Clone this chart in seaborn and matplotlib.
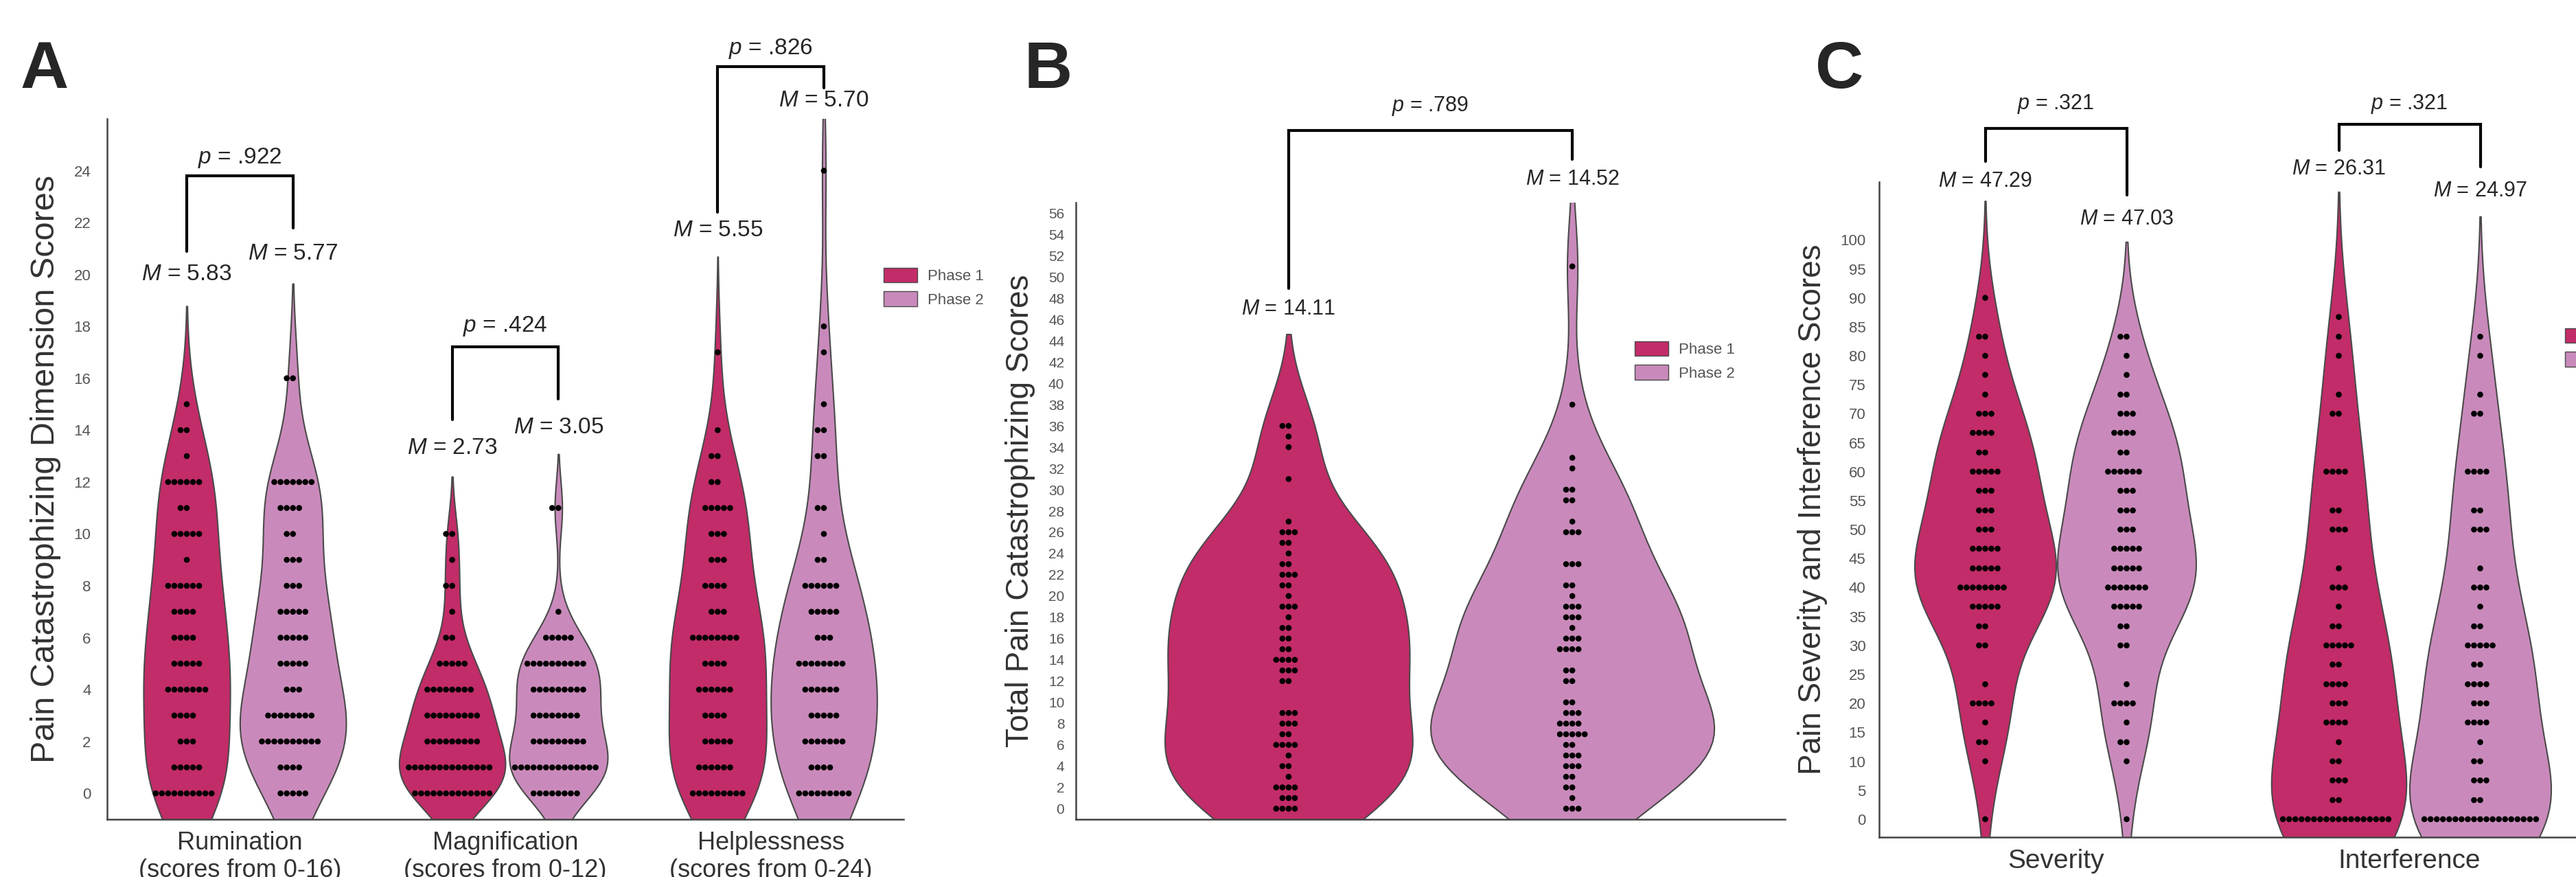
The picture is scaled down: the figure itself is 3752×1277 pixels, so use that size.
import numpy as np
import pandas as pd
import seaborn as sns
import matplotlib.pyplot as plt
from matplotlib.patches import Patch

# ---- data: score values and how many participants sit at each score ----
# Panel A - PCS dimensions
rum_scores = list(range(0, 17))
rum_p1_n = [10, 5, 3, 4, 7, 5, 4, 4, 6, 1, 5, 2, 6, 1, 2, 1, 0]
rum_p2_n = [5, 4, 10, 8, 3, 5, 5, 5, 3, 3, 2, 4, 7, 0, 0, 0, 2]

mag_scores = list(range(0, 13))
mag_p1_n = [13, 14, 9, 9, 8, 5, 2, 1, 2, 1, 2, 0, 0]
mag_p2_n = [8, 14, 9, 8, 9, 10, 5, 1, 0, 0, 0, 2, 0]

help_scores = list(range(0, 25))
help_p1_n = [9, 6, 5, 4, 6, 4, 8, 3, 4, 3, 3, 5, 2, 2, 1, 0, 0, 1, 0, 0, 0, 0, 0, 0, 0]
help_p2_n = [9, 4, 7, 5, 6, 8, 3, 5, 6, 2, 1, 2, 0, 2, 2, 1, 0, 1, 1, 0, 0, 0, 0, 0, 1]

dim_labels = ["Rumination\n(scores from 0-16)", "Magnification\n(scores from 0-12)",
              "Helplessness\n(scores from 0-24)"]
dim_means_p1 = ["5.83", "2.73", "5.55"]
dim_means_p2 = ["5.77", "3.05", "5.70"]
dim_pvals = [".922", ".424", ".826"]

# Panel B - total PCS
pcs_p1_scores = [0, 1, 2, 3, 4, 5, 6, 7, 8, 9, 12, 13, 14, 15, 16, 17, 18, 19, 20, 21,
                 22, 23, 24, 25, 26, 27, 31, 34, 35, 36]
pcs_p1_n = [4, 3, 4, 1, 2, 1, 4, 2, 3, 3, 2, 3, 4, 2, 2, 2, 1, 3, 1, 2,
            3, 2, 1, 2, 3, 1, 1, 1, 1, 2]
pcs_p2_scores = [0, 1, 2, 3, 4, 5, 6, 7, 8, 9, 10, 12, 13, 15, 16, 17, 18, 19, 20, 21,
                 23, 26, 27, 29, 30, 32, 33, 38, 51]
pcs_p2_n = [3, 1, 2, 2, 3, 3, 2, 5, 4, 3, 2, 2, 2, 4, 3, 1, 3, 3, 1, 2,
            3, 3, 1, 2, 2, 1, 1, 1, 1]
pcs_means = ["14.11", "14.52"]
pcs_pval = ".789"

# Panel C - pain severity / interference (0-100)
bpi_scores = [0, 3.3, 6.7, 10, 13.3, 16.7, 20, 23.3, 26.7, 30, 33.3, 36.7, 40, 43.3,
              46.7, 50, 53.3, 56.7, 60, 63.3, 66.7, 70, 73.3, 76.7, 80, 83.3, 86.7, 90]
sev_p1_n = [1, 0, 0, 1, 2, 1, 4, 1, 0, 2, 2, 5, 8, 5, 5, 3, 3, 3, 5, 2, 4, 3, 1, 1, 1, 2, 0, 1]
sev_p2_n = [1, 0, 0, 1, 2, 1, 4, 1, 0, 2, 2, 5, 7, 5, 5, 3, 3, 3, 6, 2, 4, 3, 2, 1, 1, 2, 0, 0]
int_p1_n = [18, 2, 3, 2, 1, 4, 3, 4, 2, 5, 2, 1, 3, 1, 0, 3, 2, 0, 4, 0, 0, 2, 1, 0, 1, 1, 1, 0]
int_p2_n = [19, 2, 3, 2, 1, 4, 3, 4, 2, 5, 2, 1, 3, 1, 0, 3, 2, 0, 4, 0, 0, 2, 1, 0, 1, 1, 0, 0]
bpi_labels = ["Severity", "Interference"]
bpi_means_p1 = ["47.29", "26.31"]
bpi_means_p2 = ["47.03", "24.97"]
bpi_pvals = [".321", ".321"]

phases = ["Phase 1", "Phase 2"]
p1_col = "#C22C68"
p2_col = "#C98ABB"
edge_col = "#4a4a4a"
tick_col = "#555555"


def long_df(groups):
    rows = []
    for grp, phase, scores, counts in groups:
        for v in np.repeat(scores, counts):
            rows.append((grp, phase, v))
    return pd.DataFrame(rows, columns=["grp", "phase", "score"])


df_a = long_df([
    (dim_labels[0], phases[0], rum_scores, rum_p1_n), (dim_labels[0], phases[1], rum_scores, rum_p2_n),
    (dim_labels[1], phases[0], mag_scores, mag_p1_n), (dim_labels[1], phases[1], mag_scores, mag_p2_n),
    (dim_labels[2], phases[0], help_scores, help_p1_n), (dim_labels[2], phases[1], help_scores, help_p2_n),
])
df_b = long_df([("all", phases[0], pcs_p1_scores, pcs_p1_n), ("all", phases[1], pcs_p2_scores, pcs_p2_n)])
df_c = long_df([
    (bpi_labels[0], phases[0], bpi_scores, sev_p1_n), (bpi_labels[0], phases[1], bpi_scores, sev_p2_n),
    (bpi_labels[1], phases[0], bpi_scores, int_p1_n), (bpi_labels[1], phases[1], bpi_scores, int_p2_n),
])

sns.set_style("white")
plt.rcParams["font.family"] = ["Liberation Sans", "DejaVu Sans"]
plt.rcParams["mathtext.fontset"] = "custom"
plt.rcParams["mathtext.it"] = "Liberation Sans:italic"
plt.rcParams["mathtext.rm"] = "Liberation Sans"

W, H = 3752, 1277
fig = plt.figure(figsize=(W / 100, H / 100), dpi=100)
ax_a = fig.add_axes([156 / W, 1 - 1193 / H, 1160 / W, 1020 / H])
ax_b = fig.add_axes([1567 / W, 1 - 1193 / H, 1033 / W, 898 / H])
ax_c = fig.add_axes([2737 / W, 1 - 1219 / H, 1030 / W, 954 / H])


def draw(ax, df, order):
    # violins scaled within each group (both phases share one density scale)
    for g in order:
        sns.violinplot(data=df[df["grp"] == g], x="grp", y="score", hue="phase", order=order,
                       hue_order=phases, palette=[p1_col, p2_col], inner=None, linewidth=1.5,
                       linecolor=edge_col, saturation=1, common_norm=True, ax=ax, legend=False)
    sns.swarmplot(data=df, x="grp", y="score", hue="phase", order=order, hue_order=phases,
                  dodge=True, palette=["black", "black"], size=6.2, ax=ax, legend=False)
    for s in ["top", "right"]:
        ax.spines[s].set_visible(False)
    for s in ["left", "bottom"]:
        ax.spines[s].set_color("#444444")
        ax.spines[s].set_linewidth(1.8)
    ax.set_xlabel("")


def bracket(ax, x1, x2, y_top, y1, y2, ptxt, y_p, fs):
    ax.plot([x1, x1, x2, x2], [y1, y_top, y_top, y2], color="black", lw=3, clip_on=False,
            solid_joinstyle="miter")
    ax.text((x1 + x2) / 2, y_p, r"$p$ = " + ptxt, ha="center", va="center", fontsize=fs, clip_on=False)


# ---- A ----
draw(ax_a, df_a, dim_labels)
ax_a.set_xlim(-0.5, 2.5)
ax_a.set_ylim(-1, 26)
ax_a.set_yticks(range(0, 25, 2))
ax_a.tick_params(axis="y", length=0, pad=17, labelsize=16, labelcolor=tick_col)
ax_a.tick_params(axis="x", length=0, pad=12, labelsize=26, labelcolor="#333333")
ax_a.set_ylabel("Pain Catastrophizing Dimension Scores", fontsize=35, color="#333333")
ax_a.yaxis.set_label_coords(-0.058, 0.5)
a_pos = [  # m1_y, m2_y, leg1_bottom, leg2_bottom, top, p_y
    (20.0, 20.8, 20.9, 21.8, 23.8, 24.5),
    (13.3, 14.1, 14.4, 15.2, 17.2, 18.0),
    (21.7, 26.7, 22.4, 27.2, 28.0, 28.7),
]
for i, (m1y, m2y, l1, l2, top, py) in enumerate(a_pos):
    ax_a.text(i - 0.2, m1y, r"$M$ = " + dim_means_p1[i], ha="center", va="center", fontsize=24, clip_on=False)
    ax_a.text(i + 0.2, m2y, r"$M$ = " + dim_means_p2[i], ha="center", va="center", fontsize=24, clip_on=False)
    bracket(ax_a, i - 0.2, i + 0.2, top, l1, l2, dim_pvals[i], py, 24)

# ---- B ----
draw(ax_b, df_b, ["all"])
ax_b.set_xlim(-0.5, 0.5)
ax_b.set_ylim(-1, 57)
ax_b.set_yticks(range(0, 57, 2))
ax_b.set_xticks([])
ax_b.tick_params(axis="y", length=0, pad=12, labelsize=15, labelcolor=tick_col)
ax_b.set_ylabel("Total Pain Catastrophizing Scores", fontsize=33, color="#333333")
ax_b.yaxis.set_label_coords(-0.057, 0.5)
ax_b.text(-0.2, 47.0, r"$M$ = " + pcs_means[0], ha="center", va="center", fontsize=22, clip_on=False)
ax_b.text(0.2, 59.2, r"$M$ = " + pcs_means[1], ha="center", va="center", fontsize=22, clip_on=False)
bracket(ax_b, -0.2, 0.2, 63.8, 48.9, 61.1, pcs_pval, 66.1, 22)

# ---- C ----
draw(ax_c, df_c, bpi_labels)
ax_c.set_xlim(-0.5, 1.5)
ax_c.set_ylim(-3.1, 110)
ax_c.set_yticks(range(0, 101, 5))
ax_c.tick_params(axis="y", length=0, pad=14, labelsize=16, labelcolor=tick_col)
ax_c.tick_params(axis="x", length=0, pad=12, labelsize=28, labelcolor="#333333")
ax_c.set_ylabel("Pain Severity and Interference Scores", fontsize=33, color="#333333")
ax_c.yaxis.set_label_coords(-0.073, 0.5)
c_pos = [
    (110.1, 103.6, 113.5, 107.7, 119.3, 123.4),
    (112.2, 108.5, 115.4, 112.6, 120.0, 123.4),
]
for i, (m1y, m2y, l1, l2, top, py) in enumerate(c_pos):
    ax_c.text(i - 0.2, m1y, r"$M$ = " + bpi_means_p1[i], ha="center", va="center", fontsize=22, clip_on=False)
    ax_c.text(i + 0.2, m2y, r"$M$ = " + bpi_means_p2[i], ha="center", va="center", fontsize=22, clip_on=False)
    bracket(ax_c, i - 0.2, i + 0.2, top, l1, l2, bpi_pvals[i], py, 22)

# ---- legends ----
handles = [Patch(facecolor=p1_col, edgecolor=edge_col, label=phases[0]),
           Patch(facecolor=p2_col, edgecolor=edge_col, label=phases[1])]
for lx, ly in [(1287, 390), (2381, 497), (3736, 478)]:
    leg = fig.legend(handles=handles, loc="upper left", bbox_to_anchor=(lx / W, 1 - ly / H),
                     frameon=False, fontsize=16, handlelength=2.2, handleheight=1.1,
                     handletextpad=0.7, labelspacing=0.5, borderpad=0, borderaxespad=0)
    for t in leg.get_texts():
        t.set_color(tick_col)

# ---- panel letters ----
for letter, lx in [("A", 30), ("B", 1492), ("C", 2644)]:
    fig.text(lx / W, 1 - 128 / H, letter, fontsize=70, fontweight="bold", va="baseline", ha="left")

fig.savefig("out.png", dpi=100)
